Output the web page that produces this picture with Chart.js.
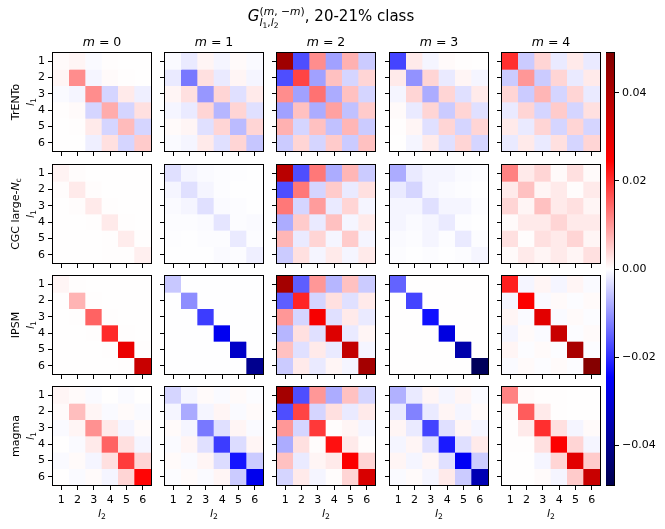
<!DOCTYPE html>
<html>
<head>
<meta charset="utf-8">
<script src="https://cdn.jsdelivr.net/npm/chart.js@4.4.1/dist/chart.umd.min.js"></script>
<style>
body { margin: 0; background: #fff; }
#fig { position: relative; width: 665px; height: 529px; overflow: hidden; background: #fff;
       font-family: 'DejaVu Sans', sans-serif; color: #000; }
#fig canvas { position: absolute; }
.txt { position: absolute; white-space: nowrap; line-height: 1.2; }
.txt sub { font-size: 70%; vertical-align: -0.25em; line-height: 0; }
.stack { display: inline-block; vertical-align: -0.5em; font-size: 0.72em; line-height: 1.05; }
.stack > span { display: block; }
.rot { transform: translate(-50%, -50%) rotate(-90deg); text-align: center; font-size: 11px; line-height: 15px; }
</style>
</head>
<body>
<div id="fig"></div>
<script>
// colour limits of the colorbar
const VMAX = 0.049;

const models = ['TrENTo', 'CGC large-<i>N</i><sub>c</sub>', 'IPSM', 'magma'];
const mValues = [0, 1, 2, 3, 4];
const l2Labels = ['1', '2', '3', '4', '5', '6'];
const l1Ticks = [1, 2, 3, 4, 5, 6];
const cbarTicks = [-0.04, -0.02, 0, 0.02, 0.04];

// G_{l1,l2}^{(m,-m)} matrices, rows = l1, cols = l2
const trento_m0 = [
  [0.0005, 0.001, -0.0005, 0.0002, 0.0001, 0.0001],
  [0.001, 0.011, -0.001, 0.0005, 0.0002, 0.0001],
  [-0.0005, -0.001, 0.011, -0.004, 0.002, -0.0015],
  [0.0002, 0.0005, -0.004, 0.008, -0.004, 0.003],
  [0.0001, 0.0002, 0.002, -0.004, 0.0065, -0.004],
  [0.0001, 0.0001, -0.0015, 0.003, -0.004, 0.005]
];
const trento_m1 = [
  [-0.0005, -0.002, 0.001, -0.001, 0.0005, -0.0005],
  [-0.002, -0.013, 0.003, -0.002, 0.001, -0.001],
  [0.001, 0.003, -0.010, 0.004, -0.003, 0.002],
  [-0.001, -0.002, 0.004, -0.007, 0.004, -0.003],
  [0.0005, 0.001, -0.003, 0.004, -0.0065, 0.004],
  [-0.0005, -0.001, 0.002, -0.003, 0.004, -0.0055]
];
const trento_m2 = [
  [0.043, -0.017, 0.011, -0.009, 0.0075, -0.005],
  [-0.017, 0.018, -0.009, 0.006, -0.004, 0.004],
  [0.011, -0.009, 0.0135, -0.008, 0.006, -0.004],
  [-0.009, 0.006, -0.008, 0.009, -0.006, 0.005],
  [0.0075, -0.004, 0.006, -0.006, 0.007, -0.005],
  [-0.005, 0.004, -0.004, 0.005, -0.005, 0.006]
];
const trento_m3 = [
  [-0.018, 0.002, -0.001, 0.0005, 0.0002, 0.0001],
  [0.002, -0.0105, 0.004, -0.002, 0.001, -0.001],
  [-0.001, 0.004, -0.008, 0.004, -0.003, 0.002],
  [0.0005, -0.002, 0.004, -0.005, 0.004, -0.003],
  [0.0002, 0.001, -0.003, 0.004, -0.004, 0.004],
  [0.0001, -0.001, 0.002, -0.003, 0.004, -0.004]
];
const trento_m4 = [
  [0.020, -0.005, 0.004, -0.002, 0.002, -0.002],
  [-0.005, 0.010, -0.005, 0.004, -0.002, 0.002],
  [0.004, -0.005, 0.007, -0.004, 0.004, -0.002],
  [-0.002, 0.004, -0.004, 0.005, -0.004, 0.003],
  [0.002, -0.002, 0.004, -0.004, 0.004, -0.004],
  [-0.002, 0.002, -0.002, 0.003, -0.004, 0.004]
];
const cgc_m0 = [
  [0.0012, 0.0003, 0.0001, 0.0001, 0.0001, 0.0001],
  [0.0003, 0.002, 0.0003, 0.0001, 0.0001, 0.0001],
  [0.0001, 0.0003, 0.002, 0.0002, 0.0001, 0.0001],
  [0.0001, 0.0001, 0.0002, 0.002, 0.0002, 0.0001],
  [0.0001, 0.0001, 0.0001, 0.0002, 0.0018, 0.0002],
  [0.0001, 0.0001, 0.0001, 0.0002, 0.0002, 0.0015]
];
const cgc_m1 = [
  [-0.003, -0.001, -0.0005, -0.0003, -0.0002, -0.0001],
  [-0.001, -0.003, -0.001, -0.0003, -0.0001, -0.0001],
  [-0.0005, -0.001, -0.003, -0.0005, -0.0003, -0.0001],
  [-0.0003, -0.0003, -0.0005, -0.0025, -0.0003, -0.0005],
  [-0.0002, -0.0001, -0.0003, -0.0003, -0.002, -0.0003],
  [-0.0001, -0.0001, -0.0001, -0.0005, -0.0003, -0.0015]
];
const cgc_m2 = [
  [0.038, -0.017, 0.013, -0.008, 0.007, -0.005],
  [-0.017, 0.013, -0.004, 0.005, -0.002, 0.003],
  [0.013, -0.004, 0.0095, -0.002, 0.004, -0.001],
  [-0.008, 0.005, -0.002, 0.006, -0.001, 0.002],
  [0.007, -0.002, 0.004, -0.001, 0.005, -0.001],
  [-0.005, 0.003, -0.001, 0.002, -0.001, 0.002]
];
const cgc_m3 = [
  [-0.008, -0.002, -0.001, -0.001, -0.0005, -0.0003],
  [-0.002, -0.004, -0.001, -0.0005, -0.0003, -0.0001],
  [-0.001, -0.001, -0.003, -0.001, -0.001, -0.0003],
  [-0.001, -0.0005, -0.001, -0.002, -0.0003, -0.0001],
  [-0.0005, -0.0003, -0.001, -0.0003, -0.002, -0.0003],
  [-0.0003, -0.0001, -0.0003, -0.0001, -0.0003, -0.001]
];
const cgc_m4 = [
  [0.012, 0.002, 0.004, 0.0005, 0.003, 0.0005],
  [0.002, 0.006, 0.001, 0.002, 0.0003, 0.002],
  [0.004, 0.001, 0.006, 0.002, 0.003, 0.001],
  [0.0005, 0.002, 0.002, 0.004, 0.002, 0.002],
  [0.003, 0.0003, 0.003, 0.002, 0.004, 0.001],
  [0.0005, 0.002, 0.001, 0.002, 0.001, 0.003]
];
const ipsm_m0 = [
  [0.001, 0.0002, 0.0001, 0.0001, 0.0001, 0.0001],
  [0.0002, 0.0072, 0.0002, 0.0001, 0.0001, 0.0001],
  [0.0001, 0.0002, 0.015, 0.0002, 0.0001, 0.0001],
  [0.0001, 0.0001, 0.0002, 0.0206, 0.0002, 0.0001],
  [0.0001, 0.0001, 0.0001, 0.0002, 0.0284, 0.0002],
  [0.0001, 0.0001, 0.0001, 0.0001, 0.0002, 0.035]
];
const ipsm_m1 = [
  [-0.0053, -0.0001, -0.0001, -0.0001, -0.0001, -0.0001],
  [-0.0001, -0.011, -0.0001, -0.0001, -0.0001, -0.0001],
  [-0.0001, -0.0001, -0.0187, -0.0001, -0.0001, -0.0001],
  [-0.0001, -0.0001, -0.0001, -0.0266, -0.0001, -0.0001],
  [-0.0001, -0.0001, -0.0001, -0.0001, -0.032, -0.0001],
  [-0.0001, -0.0001, -0.0001, -0.0001, -0.0001, -0.040]
];
const ipsm_m2 = [
  [0.042, -0.0155, 0.010, -0.007, 0.006, -0.005],
  [-0.0155, 0.021, -0.004, 0.003, -0.003, 0.002],
  [0.010, -0.004, 0.026, -0.003, 0.002, -0.002],
  [-0.007, 0.003, -0.003, 0.031, -0.002, 0.001],
  [0.006, -0.003, 0.002, -0.002, 0.036, -0.001],
  [-0.005, 0.002, -0.002, 0.001, -0.001, 0.042]
];
const ipsm_m3 = [
  [-0.015, 0.0001, 0.0001, 0.0001, 0.0001, 0.0001],
  [0.0001, -0.018, 0.0001, 0.0001, 0.0001, 0.0001],
  [0.0001, 0.0001, -0.023, 0.0001, 0.0001, 0.0001],
  [0.0001, 0.0001, 0.0001, -0.0287, 0.0001, 0.0001],
  [0.0001, 0.0001, 0.0001, 0.0001, -0.036, 0.0001],
  [0.0001, 0.0001, 0.0001, 0.0001, 0.0001, -0.047]
];
const ipsm_m4 = [
  [0.0216, -0.001, 0.001, -0.001, 0.001, -0.0005],
  [-0.001, 0.025, -0.0005, 0.0005, -0.0003, 0.0005],
  [0.001, -0.0005, 0.030, -0.0005, 0.0005, -0.0003],
  [-0.001, 0.0005, -0.0005, 0.035, -0.0003, 0.0005],
  [0.001, -0.0003, 0.0005, -0.0003, 0.041, -0.0003],
  [-0.0005, 0.0005, -0.0003, 0.0005, -0.0003, 0.048]
];
const magma_m0 = [
  [0.001, 0.0005, -0.0005, 0.0001, -0.0005, 0.0001],
  [0.0005, 0.0062, 0.001, -0.0005, 0.0005, -0.0005],
  [-0.0005, 0.001, 0.0106, 0.002, -0.001, 0.0005],
  [0.0001, -0.0005, 0.002, 0.015, 0.003, -0.001],
  [-0.0005, 0.0005, -0.001, 0.003, 0.0187, 0.004],
  [0.0001, -0.0005, 0.0005, -0.001, 0.004, 0.024]
];
const magma_m1 = [
  [-0.004, -0.001, 0.0005, -0.0005, 0.0005, -0.0003],
  [-0.001, -0.0082, -0.001, 0.001, -0.0005, 0.0005],
  [0.0005, -0.001, -0.013, -0.003, 0.001, -0.0005],
  [-0.0005, 0.001, -0.003, -0.0187, -0.0034, 0.001],
  [0.0005, -0.0005, 0.001, -0.0034, -0.0226, -0.005],
  [-0.0003, 0.0005, -0.0005, 0.001, -0.005, -0.027]
];
const magma_m2 = [
  [0.042, -0.017, 0.010, -0.008, 0.006, -0.004],
  [-0.017, 0.018, -0.004, 0.003, -0.002, 0.002],
  [0.010, -0.004, 0.019, 0.0003, 0.001, -0.001],
  [-0.008, 0.003, 0.0003, 0.023, 0.002, 0.0003],
  [0.006, -0.002, 0.001, 0.002, 0.025, 0.004],
  [-0.004, 0.002, -0.001, 0.0003, 0.004, 0.032]
];
const magma_m3 = [
  [-0.0075, -0.002, 0.001, -0.001, 0.001, -0.0005],
  [-0.002, -0.012, -0.002, 0.001, -0.001, 0.0005],
  [0.001, -0.002, -0.018, -0.003, 0.001, -0.001],
  [-0.001, 0.001, -0.003, -0.022, -0.003, 0.002],
  [0.001, -0.001, 0.001, -0.003, -0.026, -0.005],
  [-0.0005, 0.0005, -0.001, 0.002, -0.005, -0.035]
];
const magma_m4 = [
  [0.012, 0.0005, 0.0002, 0.0002, 0.0001, 0.0001],
  [0.0005, 0.0157, 0.002, 0.0002, 0.0001, 0.0001],
  [0.0002, 0.002, 0.020, 0.003, -0.001, 0.0005],
  [0.0002, 0.0002, 0.003, 0.025, 0.004, -0.001],
  [0.0001, 0.0001, -0.001, 0.004, 0.030, 0.005],
  [0.0001, 0.0001, 0.0005, -0.001, 0.005, 0.035]
];

const grid = [
  [trento_m0, trento_m1, trento_m2, trento_m3, trento_m4],
  [cgc_m0, cgc_m1, cgc_m2, cgc_m3, cgc_m4],
  [ipsm_m0, ipsm_m1, ipsm_m2, ipsm_m3, ipsm_m4],
  [magma_m0, magma_m1, magma_m2, magma_m3, magma_m4]
];

// layout (px)
const colX = [53, 165, 277, 390, 502];
const rowY = [53, 165, 276, 387];
const PW = 98, PH = 98;
const FONT = 'DejaVu Sans';

// matplotlib "seismic"
const seisStops = [
  [0.00, [0.0, 0.0, 0.3]],
  [0.25, [0.0, 0.0, 1.0]],
  [0.50, [1.0, 1.0, 1.0]],
  [0.75, [1.0, 0.0, 0.0]],
  [1.00, [0.5, 0.0, 0.0]]
];
function seismic(v) {
  let t = (v / VMAX + 1) / 2;
  t = Math.max(0, Math.min(1, t));
  for (let i = 0; i < seisStops.length - 1; i++) {
    const [t0, c0] = seisStops[i], [t1, c1] = seisStops[i + 1];
    if (t <= t1) {
      const f = (t - t0) / (t1 - t0);
      const c = c0.map((a, k) => Math.round(255 * (a + (c1[k] - a) * f)));
      return `rgb(${c[0]},${c[1]},${c[2]})`;
    }
  }
  return 'rgb(128,0,0)';
}

const frame = {
  id: 'frame',
  afterDraw(chart) {
    const { ctx, chartArea: a } = chart;
    ctx.save();
    ctx.strokeStyle = '#000';
    ctx.lineWidth = 1;
    ctx.strokeRect(a.left - 0.5, a.top - 0.5, a.right - a.left + 1, a.bottom - a.top + 1);
    ctx.restore();
  }
};

// fixed axis size, no extra room for end labels
function fixSize(s, key, size) {
  s[key] = size;
  s.paddingTop = 0; s.paddingBottom = 0;
  s.paddingLeft = 0; s.paddingRight = 0;
}

const fig = document.getElementById('fig');

function addCanvas(left, top, w, h) {
  const cv = document.createElement('canvas');
  cv.style.left = left + 'px';
  cv.style.top = top + 'px';
  cv.style.width = w + 'px';
  cv.style.height = h + 'px';
  cv.width = w;
  cv.height = h;
  fig.appendChild(cv);
  return cv;
}

function addText(html, x, y, cls, style) {
  const d = document.createElement('div');
  d.className = 'txt ' + (cls || '');
  d.innerHTML = html;
  d.style.left = x + 'px';
  d.style.top = y + 'px';
  Object.assign(d.style, style || {});
  fig.appendChild(d);
  return d;
}

const L = 32, B = 30, P = 3;

function panel(mat, r, c) {
  const cv = addCanvas(colX[c] - L, rowY[r] - P, PW + L + P, PH + P + B);
  const datasets = mat.map((row, i) => ({
    data: row.map(() => [l1Ticks[i] - 0.5, l1Ticks[i] + 0.5]),
    backgroundColor: row.map(seismic),
    borderWidth: 0,
    grouped: false,
    barPercentage: 1,
    categoryPercentage: 1
  }));
  new Chart(cv, {
    type: 'bar',
    data: { labels: l2Labels, datasets },
    options: {
      responsive: false,
      animation: false,
      layout: { padding: { top: P, right: P, left: 0, bottom: 0 } },
      plugins: { legend: { display: false }, tooltip: { enabled: false } },
      scales: {
        x: {
          offset: true,
          grid: { offset: false, drawOnChartArea: false, tickLength: 5, tickColor: '#000' },
          border: { display: false },
          ticks: { display: r === 3, color: '#000', padding: 4, maxRotation: 0,
                   font: { family: FONT, size: 11 } },
          afterFit: s => fixSize(s, 'height', B)
        },
        y: {
          min: 0.5, max: 6.5, reverse: true,
          afterBuildTicks: s => { s.ticks = l1Ticks.map(v => ({ value: v })); },
          grid: { drawOnChartArea: false, tickLength: 5, tickColor: '#000' },
          border: { display: false },
          ticks: { display: c === 0, color: '#000', padding: 3,
                   callback: v => String(v), font: { family: FONT, size: 11 } },
          afterFit: s => fixSize(s, 'width', L)
        }
      }
    },
    plugins: [frame]
  });
}

grid.forEach((rowMats, r) => rowMats.forEach((mat, c) => panel(mat, r, c)));

// colorbar
const cbX = 606, cbW = 8, cbTop = 53, cbH = 432, cbR = 50;
const cbCanvas = addCanvas(cbX, cbTop - P, cbW + cbR, cbH + 2 * P);
new Chart(cbCanvas, {
  type: 'bar',
  data: {
    labels: [''],
    datasets: [{
      data: [[-VMAX, VMAX]],
      borderWidth: 0,
      barPercentage: 1,
      categoryPercentage: 1,
      backgroundColor: ctx => {
        const chart = ctx.chart;
        if (!chart.chartArea) return '#fff';
        const y = chart.scales.y;
        const g = chart.ctx.createLinearGradient(0, y.getPixelForValue(-VMAX), 0, y.getPixelForValue(VMAX));
        seisStops.forEach(([t, c]) => g.addColorStop(t, `rgb(${c.map(a => Math.round(a * 255)).join(',')})`));
        return g;
      }
    }]
  },
  options: {
    responsive: false,
    animation: false,
    layout: { padding: { top: P, bottom: P, left: 0, right: 0 } },
    plugins: { legend: { display: false }, tooltip: { enabled: false } },
    scales: {
      x: { display: false },
      y: {
        position: 'right',
        min: -VMAX, max: VMAX,
        afterBuildTicks: s => { s.ticks = cbarTicks.map(v => ({ value: v })); },
        grid: { drawOnChartArea: false, tickLength: 5, tickColor: '#000' },
        border: { display: false },
        ticks: { color: '#000', padding: 3, font: { family: FONT, size: 11 },
                 callback: v => (v < 0 ? '\u2212' : '') + Math.abs(v).toFixed(2) },
        afterFit: s => fixSize(s, 'width', cbR)
      }
    }
  },
  plugins: [frame]
});

// texts
addText('<i>G</i><span class="stack"><span>(<i>m</i>, \u2212<i>m</i>)</span><span><i>l</i><sub>1</sub>,<i>l</i><sub>2</sub></span></span>, 20-21% class',
        331, 6, '', { fontSize: '15px', transform: 'translateX(-50%)' });

mValues.forEach((m, c) => {
  addText('<i>m</i> = ' + m, colX[c] + PW / 2, 34, '',
          { fontSize: '12.5px', transform: 'translateX(-50%)' });
  addText('<i>l</i><sub>2</sub>', colX[c] + PW / 2, 507, '',
          { fontSize: '11px', transform: 'translateX(-50%)' });
});

models.forEach((name, r) => {
  addText(name + '<br><i>l</i><sub>1</sub>', 23, rowY[r] + PH / 2, 'rot');
});
</script>
</body>
</html>
